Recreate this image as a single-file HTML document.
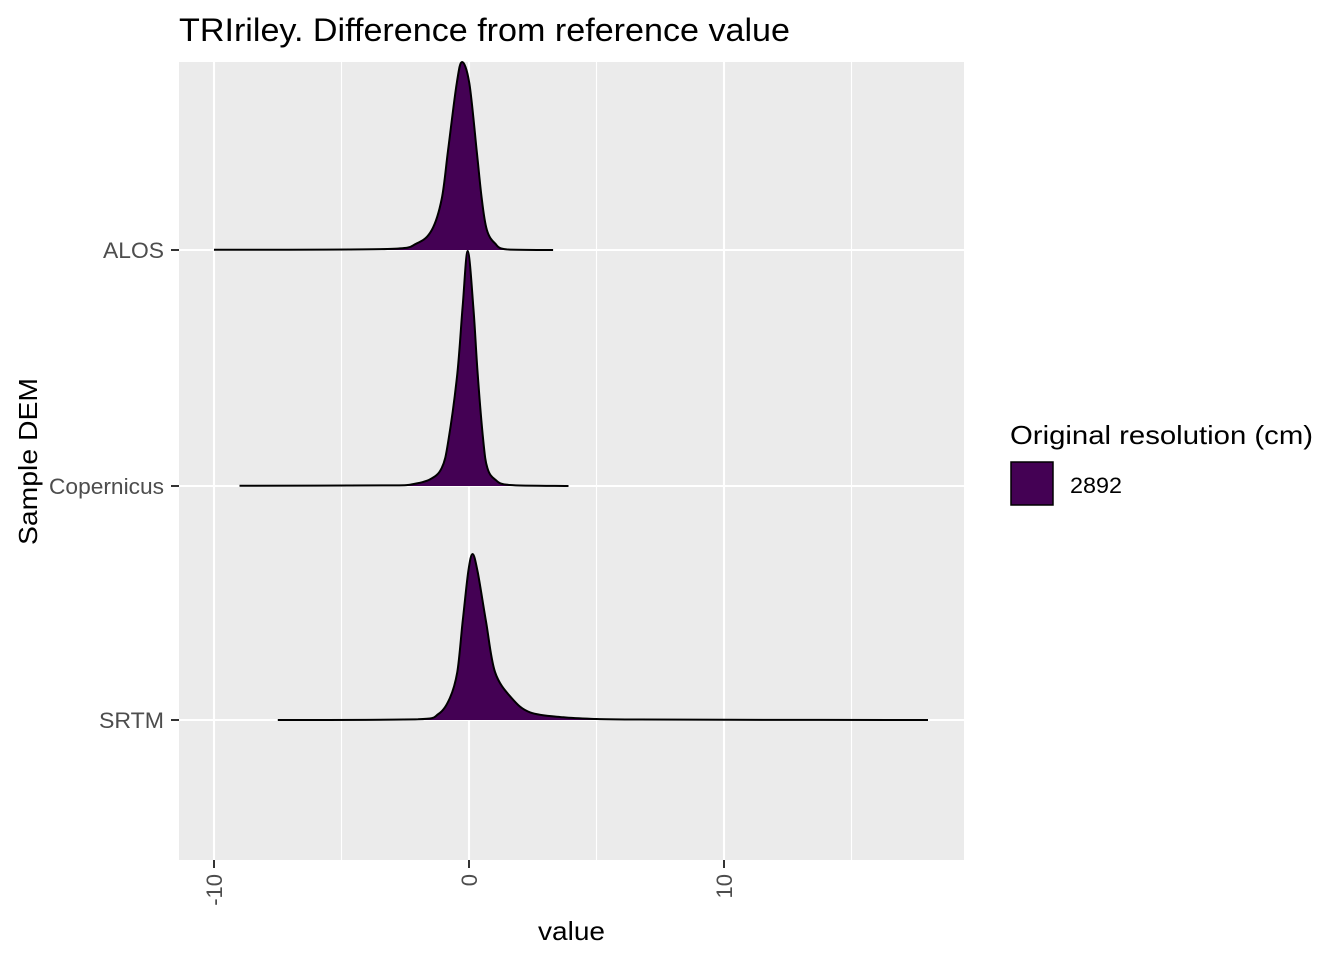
<!DOCTYPE html>
<html><head><meta charset="utf-8"><style>
body{margin:0;background:#fff;}
svg text{font-family:"Liberation Sans",Arial,sans-serif;}
</style></head><body>
<svg width="1344" height="960" viewBox="0 0 1344 960" xmlns="http://www.w3.org/2000/svg">
<rect x="0" y="0" width="1344" height="960" fill="#fff"/>
<text x="179" y="41" font-size="32" textLength="611" lengthAdjust="spacingAndGlyphs" fill="#000">TRIriley. Difference from reference value</text>
<rect x="179" y="62" width="785" height="798" fill="#ebebeb"/>
<g id="grid"></g>
<g id="ridges"></g>
<g id="yaxis"></g>
<g id="xaxis"></g>
<text x="538" y="940" font-size="26" textLength="67" lengthAdjust="spacingAndGlyphs" fill="#000">value</text>
<text transform="translate(37,545) rotate(-90)" font-size="26" textLength="167" lengthAdjust="spacingAndGlyphs" fill="#000">Sample DEM</text>
<g>
<text x="1010" y="444" font-size="26" textLength="303" lengthAdjust="spacingAndGlyphs" fill="#000">Original resolution (cm)</text>
<rect x="1011" y="462" width="42" height="43" fill="#440154" stroke="#000" stroke-width="1.5"/>
<text x="1070" y="493" font-size="22" textLength="52" lengthAdjust="spacingAndGlyphs" fill="#000">2892</text>
</g>
</svg>
<script>
const categories = ["ALOS","Copernicus","SRTM"];
const catWidths = [61,115,65];
const xTicks = [-10,0,10];
const xMinor = [-5,5,15];
const alosX = [-10,-3.2,-2.05,-1.46,-1.07,-0.82,-0.48,-0.27,0.01,0.30,0.50,0.70,1.02,1.48,3.3];
const alosY = [0.002,0.01,0.066,0.2,0.51,1.0,1.67,1.88,1.67,1.0,0.51,0.2,0.066,0.006,0.0];
const copX = [-9,-3,-2.3,-1.53,-1.07,-0.81,-0.46,-0.25,-0.05,0.17,0.34,0.56,0.72,1.02,1.6,3.9];
const copY = [0.002,0.006,0.014,0.066,0.18,0.45,1.12,1.79,2.35,1.79,1.12,0.45,0.18,0.066,0.01,0.0];
const srtmX = [-7.5,-2.0,-1.2,-0.75,-0.46,-0.25,-0.03,0.14,0.34,0.67,1.02,1.67,2.4,3.7,5.0,6.5,10,18];
const srtmY = [0.0,0.007,0.06,0.22,0.48,0.98,1.48,1.66,1.48,0.98,0.48,0.22,0.076,0.027,0.01,0.005,0.002,0.0];
const series = [[alosX,alosY],[copX,copY],[srtmX,srtmY]];
const NS="http://www.w3.org/2000/svg";
const xs = v => 469 + v*25.5;
const baselines = [250,486,720];
const yScale = d => d*100;
function mk(tag, attrs, parent){const e=document.createElementNS(NS,tag);for(const k in attrs)e.setAttribute(k,attrs[k]);parent.appendChild(e);return e;}
function smooth(P){
  let d='M'+P[0][0].toFixed(1)+','+P[0][1].toFixed(1);
  for(let i=0;i<P.length-1;i++){
    const p0=P[Math.max(0,i-1)],p1=P[i],p2=P[i+1],p3=P[Math.min(P.length-1,i+2)];
    let c1x=p1[0]+(p2[0]-p0[0])/6,c1y=p1[1]+(p2[1]-p0[1])/6;
    let c2x=p2[0]-(p3[0]-p1[0])/6,c2y=p2[1]-(p3[1]-p1[1])/6;
    const b=Math.max(p1[1],p2[1]);c1y=Math.min(c1y,b);c2y=Math.min(c2y,b);
    c1x=Math.min(Math.max(c1x,p1[0]),p2[0]);c2x=Math.min(Math.max(c2x,p1[0]),p2[0]);
    d+=' C'+c1x.toFixed(1)+','+c1y.toFixed(1)+' '+c2x.toFixed(1)+','+c2y.toFixed(1)+' '+p2[0].toFixed(1)+','+p2[1].toFixed(1);
  }
  return d;
}
const grid=document.getElementById('grid');
xMinor.forEach(v=>{const l=mk('line',{x1:xs(v),x2:xs(v),y1:62,y2:860,stroke:'#fff','stroke-width':1.1},grid);

});
xTicks.forEach(v=>{const l=mk('line',{x1:xs(v),x2:xs(v),y1:62,y2:860,stroke:'#fff','stroke-width':2.1},grid);

});
baselines.forEach(b=>{const l=mk('line',{x1:179,x2:964,y1:b,y2:b,stroke:'#fff','stroke-width':2.1},grid);

});
const ridges=document.getElementById('ridges');
series.forEach((s,i)=>{
  const b=baselines[i];
  const P=s[0].map((v,j)=>[xs(v),b-yScale(s[1][j])]);
  const line=smooth(P);
  const d=line+' L'+P[P.length-1][0].toFixed(1)+','+b+' L'+P[0][0].toFixed(1)+','+b+' Z';
  const p=mk('path',{d:d,fill:'#440154',stroke:'none'},ridges);
  
  
  const ln=mk('path',{d:line,fill:'none',stroke:'#000','stroke-width':2},ridges);
  
  
});
const ya=document.getElementById('yaxis');
categories.forEach((c,i)=>{
  const t=mk('line',{x1:171,x2:179,y1:baselines[i],y2:baselines[i],stroke:'#333','stroke-width':2},ya);
  
  
  const tx=mk('text',{x:164,y:baselines[i]+8,'font-size':22,'text-anchor':'end',fill:'#4d4d4d',textLength:catWidths[i],lengthAdjust:'spacingAndGlyphs'},ya);
  tx.textContent=c;
  
  
});
const xa=document.getElementById('xaxis');
xTicks.forEach(v=>{
  const t=mk('line',{x1:xs(v),x2:xs(v),y1:860,y2:868,stroke:'#333','stroke-width':2},xa);
  
  
  const tx=mk('text',{transform:'translate('+(xs(v)+8)+',874) rotate(-90)','font-size':22,'text-anchor':'end',fill:'#4d4d4d'},xa);
  tx.textContent=String(v);
  
  
});
</script>
</body></html>
